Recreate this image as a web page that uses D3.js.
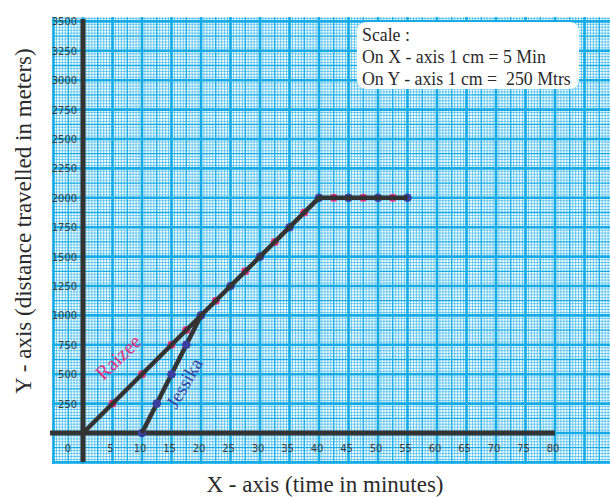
<!DOCTYPE html>
<html><head><meta charset="utf-8">
<script src="https://cdn.jsdelivr.net/npm/d3@7"></script>
<style>body{margin:0;background:#fff}svg{display:block}</style>
</head><body><svg id="c" width="610" height="497"></svg>
<script>
// ---- data ----
const xTicks = [0,5,10,15,20,25,30,35,40,45,50,55,60,65,70,75,80];
const yTicks = [250,500,750,1000,1250,1500,1750,2000,2250,2500,2750,3000,3250,3500];
const raizeeLine = [[0,0],[40,2000],[55,2000]];
const jessikaLine = [[10,0],[20,1000]];
const raizeePoints = [[5,250],[10,500],[15,750],[17.5,875],[22.5,1125],[27.5,1375],[32.5,1625],[37.5,1875],[42.5,2000],[47.5,2000],[52.5,2000]];
const jessikaPoints = [[10,0],[12.5,250],[15,500],[17.5,750],[20,1000],[25,1250],[30,1500],[35,1750],[40,2000],[45,2000],[50,2000],[55,2000]];
const scaleText = ["Scale :","On X - axis 1 cm = 5 Min","On Y - axis 1 cm =  250 Mtrs"];

const svg = d3.select("#c");
const x = d3.scaleLinear().domain([0,80]).range([83,555]);
const y = d3.scaleLinear().domain([0,3500]).range([433,21.4]);

// graph paper
const PX0=52, PX1=610, PY0=17, PY1=464;
svg.append("clipPath").attr("id","pc").append("rect").attr("x",PX0).attr("y",PY0).attr("width",PX1-PX0).attr("height",PY1-PY0);
const paper = svg.append("g").attr("clip-path","url(#pc)");
paper.append("rect").attr("x",PX0).attr("y",PY0).attr("width",PX1-PX0).attr("height",PY1-PY0).attr("fill","#f6fcff");
const blue="#14abe6";
const xv = d3.range(-60,180).map(i=>i*0.5);
const yv = d3.range(-12,145).map(i=>i*25);
function kind(i){ return i%10===0?2:(i%5===0?1:0); }
xv.forEach(v=>{
  const k=kind(Math.round(v*2));
  paper.append("line").attr("x1",x(v)).attr("x2",x(v)).attr("y1",PY0).attr("y2",PY1)
    .attr("stroke",blue).attr("stroke-width",k===2?2.6:(k===1?1.3:0.8)).attr("opacity",k===0?0.7:1);
});
yv.forEach(v=>{
  const k=kind(Math.round(v/25));
  paper.append("line").attr("y1",y(v)).attr("y2",y(v)).attr("x1",PX0).attr("x2",PX1)
    .attr("stroke",blue).attr("stroke-width",k===2?2.6:(k===1?1.3:0.8)).attr("opacity",k===0?0.7:1);
});

// axes lines
svg.append("line").attr("x1",x(0)).attr("x2",x(0)).attr("y1",19).attr("y2",462).attr("stroke","#333").attr("stroke-width",5);
svg.append("line").attr("x1",50).attr("x2",x(80)).attr("y1",y(0)).attr("y2",y(0)).attr("stroke","#333").attr("stroke-width",5);

// tick labels
const tickFont = "DejaVu Sans Condensed, DejaVu Sans, sans-serif";
svg.append("g").selectAll("text").data(yTicks).join("text")
  .attr("x",77).attr("y",d=>y(d)).attr("dy","0.36em").attr("text-anchor","end")
  .attr("font-family",tickFont).style("font-stretch","condensed").attr("font-size",11).attr("fill","#3c3c3c")
  .text(d=>d);
svg.append("g").selectAll("text").data(xTicks).join("text")
  .attr("x",d=>d===0?x(0)-15:x(d)-2).attr("y",448).attr("dy","0.36em").attr("text-anchor","middle")
  .attr("font-family",tickFont).style("font-stretch","condensed").attr("font-size",11).attr("fill","#3c3c3c")
  .text(d=>d);

// scale box
svg.append("rect").attr("x",357).attr("y",22).attr("width",222).attr("height",67).attr("rx",9).attr("fill","#fff");
svg.append("g").selectAll("text").data(scaleText).join("text")
  .attr("x",362).attr("y",(d,i)=>41+i*22).attr("font-family","Liberation Serif, Times New Roman, serif")
  .attr("font-size",17.8).attr("fill","#2a2a2a").style("white-space","pre").text(d=>d);

// data
const pink="#e3307f", dblue="#3b3f9e";
const line = d3.line().x(d=>x(d[0])).y(d=>y(d[1]));
svg.append("g").selectAll("circle").data(raizeePoints).join("circle")
  .attr("cx",d=>x(d[0])).attr("cy",d=>y(d[1])).attr("r",4).attr("fill",pink);
svg.append("g").selectAll("circle").data(jessikaPoints.filter(d=>d[0]>=20||d[0]===10)).join("circle")
  .attr("cx",d=>x(d[0])).attr("cy",d=>y(d[1])).attr("r",4.3).attr("fill",dblue);
svg.append("path").attr("d",line(raizeeLine)).attr("fill","none").attr("stroke","#333").attr("stroke-width",4.5);
svg.append("path").attr("d",line(jessikaLine)).attr("fill","none").attr("stroke","#333").attr("stroke-width",4.5);
svg.append("g").selectAll("circle").data(jessikaPoints.filter(d=>d[0]>10&&d[0]<20)).join("circle")
  .attr("cx",d=>x(d[0])).attr("cy",d=>y(d[1])).attr("r",4.3).attr("fill",dblue);

// series labels
svg.append("text").attr("transform","translate(118,357) rotate(-44)").attr("text-anchor","middle").attr("dy","0.35em")
  .attr("font-family","Liberation Serif, Times New Roman, serif").attr("font-size",20).attr("fill",pink).text("Raizee");
svg.append("text").attr("transform","translate(184,383) rotate(-60)").attr("text-anchor","middle").attr("dy","0.35em")
  .attr("font-family","Liberation Serif, Times New Roman, serif").attr("font-size",19).attr("fill",dblue).text("Jessika");

// axis titles
svg.append("text").attr("x",325).attr("y",492).attr("text-anchor","middle")
  .attr("font-family","Liberation Serif, Times New Roman, serif").attr("font-size",23).attr("fill","#2a2a2a")
  .text("X - axis (time in minutes)");
svg.append("text").attr("transform","translate(23,221) rotate(-90)").attr("text-anchor","middle").attr("dy","0.35em")
  .attr("font-family","Liberation Serif, Times New Roman, serif").attr("font-size",23).attr("fill","#2a2a2a")
  .text("Y - axis (distance travelled in meters)");
</script></body></html>
